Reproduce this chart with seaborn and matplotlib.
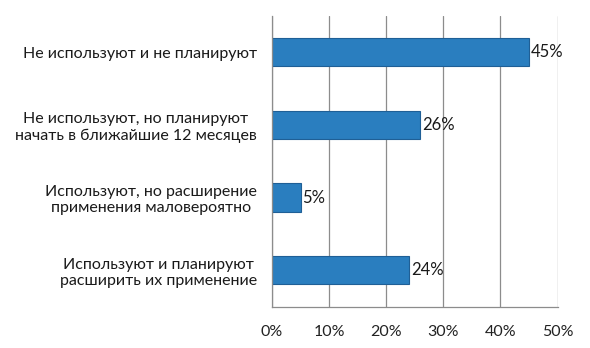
import matplotlib
matplotlib.use("Agg")
import matplotlib.pyplot as plt
import seaborn as sns
import pandas as pd

# data
categories = [
    "Не используют и не планируют",
    "Не используют, но планируют\nначать в ближайшие 12 месяцев",
    "Используют, но расширение\nприменения маловероятно",
    "Используют и планируют\nрасширить их применение",
]
values = [45, 26, 5, 24]
x_ticks = [0, 10, 20, 30, 40, 50]

df = pd.DataFrame({"cat": categories, "val": values})

sns.set_theme(style="white")
plt.rcParams["font.family"] = ["Lato", "DejaVu Sans"]

fig = plt.figure(figsize=(5.9, 3.48), dpi=100)
ax = fig.add_axes([0.461, 0.119, 0.484, 0.835])

sns.barplot(data=df, y="cat", x="val", orient="h", color="#2A7EBF",
            edgecolor="#1F5F96", linewidth=0.8, width=0.39, saturation=1, ax=ax)

ax.set_xlim(0, 50)
ax.set_ylim(3.5, -0.5)
ax.set_xticks(x_ticks)
ax.set_xticklabels([f"{t}%" for t in x_ticks], fontsize=11.5, color="#222222")
ax.xaxis.grid(True, color="#8c8c8c", linewidth=0.9)
ax.set_axisbelow(True)

# boundary ticks on y axis, labels at centres
ax.set_yticks([-0.5, 0.5, 1.5, 2.5, 3.5])
ax.set_yticklabels([])
ax.set_yticks(range(len(categories)), minor=True)
ax.set_yticklabels(categories, minor=True, fontsize=11.5, color="#1a1a1a",
                   multialignment="center")
ax.tick_params(axis="y", which="major", length=4, color="#8c8c8c", width=0.9)
ax.tick_params(axis="y", which="minor", length=0, pad=11)
ax.tick_params(axis="x", length=4, color="#8c8c8c", width=0.9, pad=9)

for s in ["top", "right"]:
    ax.spines[s].set_visible(False)
for s in ["left", "bottom"]:
    ax.spines[s].set_color("#8c8c8c")
    ax.spines[s].set_linewidth(0.9)

ax.set_xlabel("")
ax.set_ylabel("")

for i, v in enumerate(values):
    ax.text(v + 0.3, i, f"{v}%", va="center", ha="left", fontsize=12, color="#1a1a1a")

fig.savefig("out.png", dpi=100)
